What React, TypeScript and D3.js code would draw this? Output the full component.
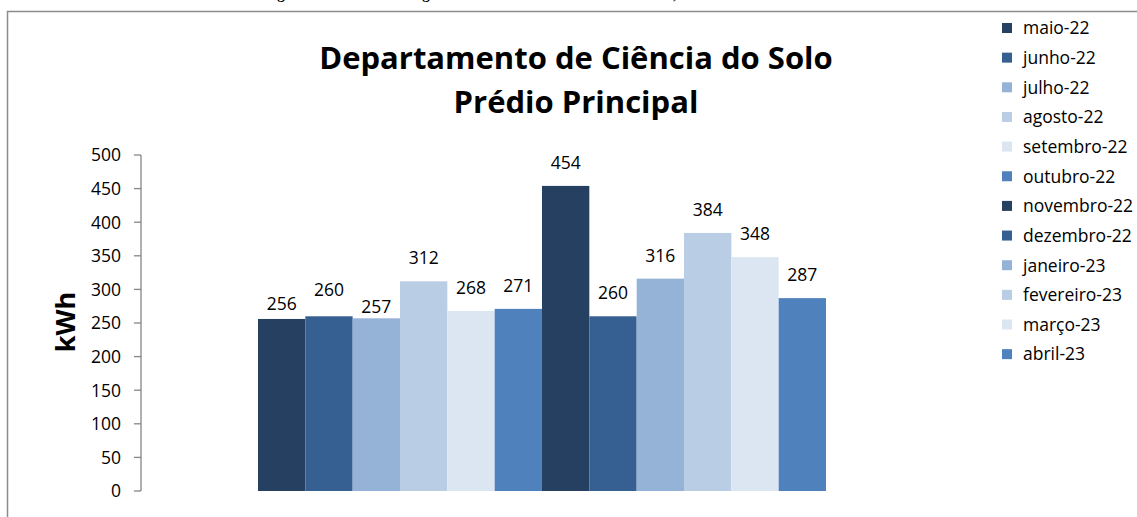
import React from "react";
import * as d3 from "d3";

const months = [
  "maio-22", "junho-22", "julho-22", "agosto-22", "setembro-22", "outubro-22",
  "novembro-22", "dezembro-22", "janeiro-23", "fevereiro-23", "março-23", "abril-23",
];
const values = [256, 260, 257, 312, 268, 271, 454, 260, 316, 384, 348, 287];
const yTicks = [0, 50, 100, 150, 200, 250, 300, 350, 400, 450, 500];
const palette = ["#254061", "#376092", "#95B3D7", "#B9CDE5", "#DCE6F2", "#4F81BD"];
const titleLines = ["Departamento de Ciência do Solo", "Prédio Principal"];
const yAxisTitle = "kWh";
const captionParts = [
  "Figura 5 – Uso de",
  "energia elétrica do edifício em kWh",
  ", de maio de 2022 a abril de 2023",
];
// small label nudges seen in the reference (px, vertical)
const labelNudge: Record<number, number> = { 0: 8, 1: -3, 2: 12 };

const W = 1137;
const H = 517;
const FONT = "'Open Sans', 'Noto Sans', sans-serif";

export default function App() {
  const x = d3.scaleBand<string>().domain(months).range([258, 826]).padding(0);
  const y = d3.scaleLinear().domain([0, 500]).range([491, 155]);
  const color = (i: number) => palette[i % palette.length];
  const axisX = 141;
  const captionX = [264, 394, 673];

  return (
    <svg
      width={W}
      height={H}
      style={{ position: "absolute", left: 0, top: 0, background: "#fff" }}
      fontFamily={FONT}
    >
      <rect x={0} y={0} width={W} height={H} fill="#fff" />
      {/* caption cut off above the chart frame */}
      <text
        y={-0.8}
        fontFamily="'Liberation Serif', serif"
        fontWeight="bold"
        fontSize={15}
        fill="#000"
      >
        {captionParts.map((p, i) => (
          <tspan key={i} x={captionX[i]}>
            {p}
          </tspan>
        ))}
      </text>
      {/* chart frame */}
      <path d={`M7.5,${H + 2} V11.5 H${W + 2}`} fill="none" stroke="#8c8c8c" strokeWidth={1.5} />

      {/* title */}
      {titleLines.map((t, i) => (
        <text
          key={t}
          x={576}
          y={69 + i * 44}
          textAnchor="middle"
          fontWeight="bold"
          fontSize={31}
          fill="#000"
        >
          {t}
        </text>
      ))}

      {/* y axis */}
      <line x1={axisX} x2={axisX} y1={y(500)} y2={y(0)} stroke="#868686" strokeWidth={1.3} />
      {yTicks.map((t) => (
        <g key={t}>
          <line x1={axisX - 7} x2={axisX} y1={y(t)} y2={y(t)} stroke="#868686" strokeWidth={1.3} />
          <text x={121} y={y(t)} dy="0.36em" textAnchor="end" fontSize={17.5} fill="#000">
            {t}
          </text>
        </g>
      ))}
      <text
        transform={`translate(75,322) rotate(-90)`}
        textAnchor="middle"
        fontWeight="bold"
        fontSize={27}
        fill="#000"
      >
        {yAxisTitle}
      </text>

      {/* bars */}
      {months.map((m, i) => (
        <rect
          key={m}
          x={x(m)!}
          y={y(values[i])}
          width={x.bandwidth()}
          height={y(0) - y(values[i])}
          fill={color(i)}
        />
      ))}
      {months.map((m, i) => (
        <text
          key={"l" + m}
          x={x(m)! + x.bandwidth() / 2}
          y={y(values[i]) - 17 + (labelNudge[i] || 0)}
          textAnchor="middle"
          fontSize={17.5}
          fill="#000"
        >
          {values[i]}
        </text>
      ))}

      {/* legend */}
      {months.map((m, i) => (
        <g key={"lg" + m} transform={`translate(1002,${28 + i * 29.65})`}>
          <rect x={0} y={-5} width={10} height={10} fill={color(i)} />
          <text x={21} y={0} dy="0.36em" fontSize={17.5} fill="#000">
            {m}
          </text>
        </g>
      ))}
    </svg>
  );
}
